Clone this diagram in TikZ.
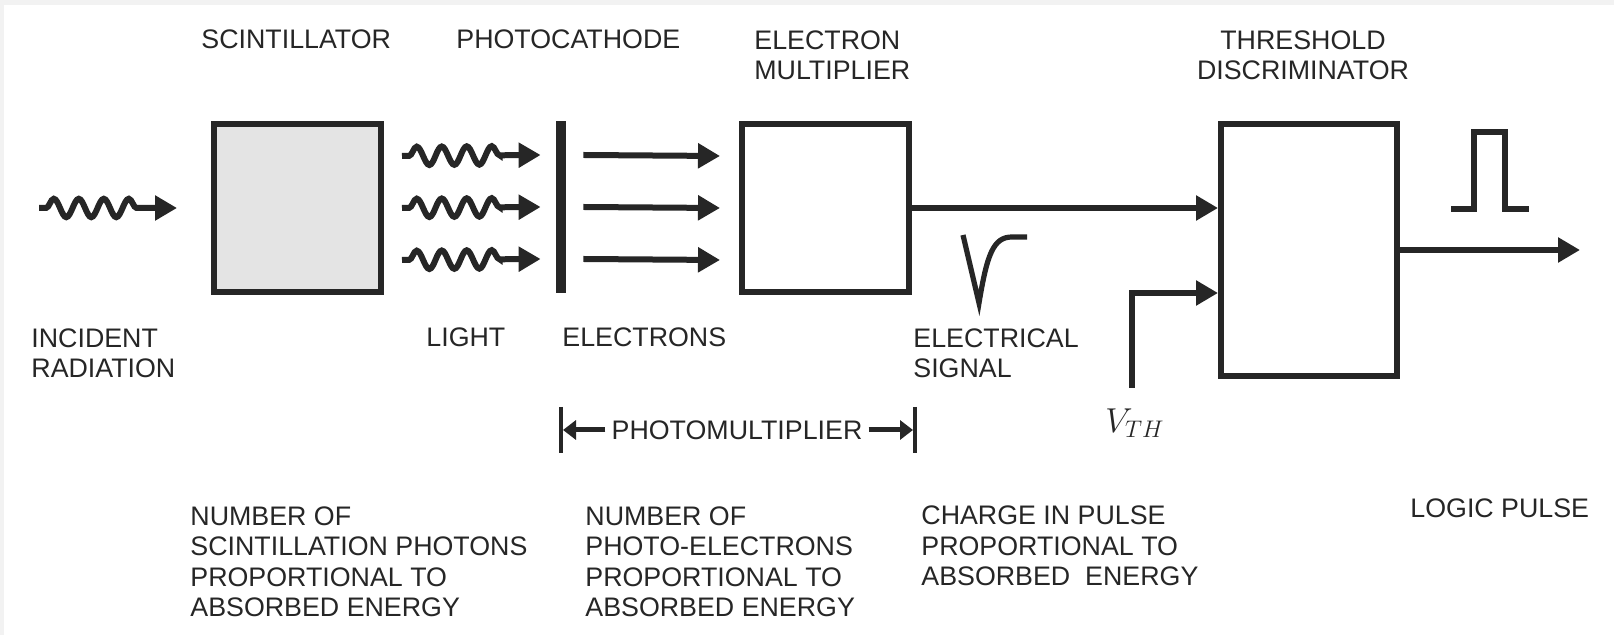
\documentclass[tikz,border=0pt]{standalone}
\usepackage{fontspec}
\setmainfont{Liberation Sans}
\usetikzlibrary{arrows.meta,decorations.pathmorphing,positioning,calc}
\definecolor{FrameGray}{RGB}{242,242,242}
\definecolor{InkBlack}{RGB}{38,38,38}
\definecolor{ScintGray}{RGB}{228,228,228}

\begin{document}
\begin{tikzpicture}[x=0.5pt,y=-0.5pt,
  blk/.style={rectangle,draw=InkBlack,line width=3pt,minimum width=83.5pt,minimum height=84pt,inner sep=0pt},
  lbl/.style={font=\fontsize{13.4}{15.3}\selectfont,text=InkBlack,align=left,anchor=base west,inner sep=0pt},
  arr/.style={-{Triangle[length=11pt,width=12pt]},line width=3pt,draw=InkBlack},
  wavy/.style={arr,decorate,decoration={snake,segment length=12.5pt,amplitude=4.6pt,pre length=3.5pt,post length=16.5pt}},
  sig/.style={line width=2.6pt,draw=InkBlack},
  pmarr/.style={-{Triangle[length=6.5pt,width=9.5pt]},line width=2.5pt,draw=InkBlack},
  pmbar/.style={line width=2pt,draw=InkBlack}
]
  \fill[FrameGray] (0,0) rectangle (1614,635);
  \fill[white] (4,5) rectangle (1614,635);

  \node[blk,fill=ScintGray] (scint) at (297.5,208) {};
  \node[rectangle,fill=InkBlack,minimum width=5pt,minimum height=86pt,inner sep=0pt] (cath) at (561,207) {};
  \node[blk] (emult) at (825.5,208) {};
  \node[blk,minimum width=88pt,minimum height=126pt] (disc) at (1309,250) {};
  \node[font=\fontsize{17}{20}\selectfont,text=InkBlack,inner sep=0pt,anchor=north] (vth) at (1135,408) {$V_{TH}$};
  \coordinate (rad) at (39,208);
  \coordinate (logic) at (1580,250);

  \draw[wavy] (rad) -- ([xshift=-17pt]scint.west);
  \foreach \dy in {26,0,-26} {
    \draw[wavy] ([shift={(9pt,\dy pt)}]scint.east) -- ([shift={(-7.5pt,\dy pt)}]cath.west);
    \draw[arr] ([shift={(8.5pt,\dy pt)}]cath.east) -- ([shift={(-9.5pt,\dy pt)}]emult.west);
  }
  \draw[arr] (emult.east) -- (emult.east -| disc.west);
  \draw[arr] ([yshift=10pt]vth.north -| 1132,0) |- ([yshift=-21.5pt]disc.west);
  \draw[arr] (disc.east) -- (disc.east -| logic);

  \draw[sig] (963,235) -- (979,303) .. controls (987,255) and (993,237) .. (1012,237) -- (1027,237);
  \draw[sig] (1451,209) -- (1474,209) -- (1474,132) -- (1505,132) -- (1505,209) -- (1529,209);

  \node[lbl,anchor=center] (pm) at (737,430) {PHOTOMULTIPLIER};
  \coordinate (pmL) at (cath.center |- pm.center);
  \coordinate (pmR) at ([xshift=1.5pt]emult.east |- pm.center);
  \draw[pmbar] ([yshift=11.5pt]pmL) -- ([yshift=-11.5pt]pmL);
  \draw[pmbar] ([yshift=11.5pt]pmR) -- ([yshift=-11.5pt]pmR);
  \draw[pmarr] ([xshift=-3pt]pm.west) -- ([xshift=1pt]pmL);
  \draw[pmarr] ([xshift=3pt]pm.east) -- ([xshift=-1pt]pmR);

  \node[lbl] (scintlbl) at (201,49) {SCINTILLATOR};
  \node[lbl] (cathlbl) at (456,49) {PHOTOCATHODE};
  \node[lbl] (emultlbl) at (754,80) {ELECTRON\\MULTIPLIER};
  \node[lbl,align=center,anchor=base] (disclbl) at (1303,80) {THRESHOLD\\DISCRIMINATOR};
  \node[lbl] (radlbl) at (31,378) {INCIDENT\\RADIATION};
  \node[lbl] (lightlbl) at (426,347) {LIGHT};
  \node[lbl] (eleclbl) at (562,347) {ELECTRONS};
  \node[lbl] (siglbl) at (913,378) {ELECTRICAL\\SIGNAL};
  \node[lbl] (photnote) at (190,617) {NUMBER OF\\SCINTILLATION PHOTONS\\PROPORTIONAL TO\\ABSORBED ENERGY};
  \node[lbl] (penote) at (585,617) {NUMBER OF\\PHOTO-ELECTRONS\\PROPORTIONAL TO\\ABSORBED ENERGY};
  \node[lbl] (chargenote) at (921,586) {CHARGE IN PULSE\\PROPORTIONAL TO\\ABSORBED\ \ ENERGY};
  \node[lbl] (logiclbl) at (1410,518) {LOGIC PULSE};
\end{tikzpicture}
\end{document}
